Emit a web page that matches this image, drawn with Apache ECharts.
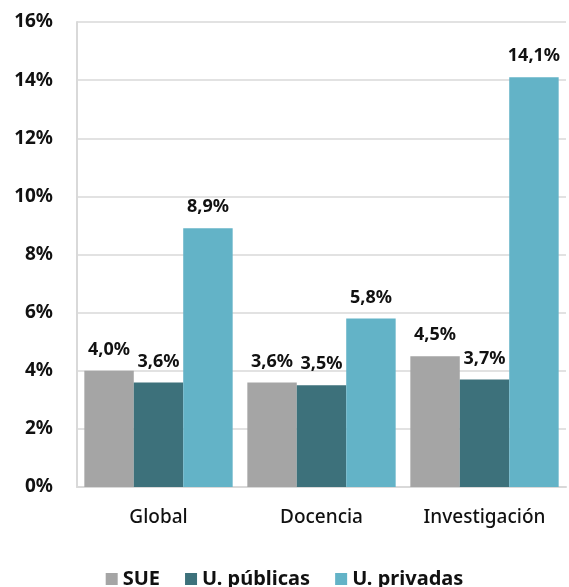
<!DOCTYPE html>
<html><head><meta charset="utf-8">
<script src="https://cdn.jsdelivr.net/npm/echarts@6/dist/echarts.min.js"></script>
<style>html,body{margin:0;padding:0;background:#fff}#c{width:569px;height:587px}</style>
</head><body><div id="c"></div>
<script>
const categories = ["Global", "Docencia", "Investigación"];
const seriesNames = ["SUE", "U. públicas", "U. privadas"];
const sue = [4.0, 3.6, 4.5];
const publicas = [3.6, 3.5, 3.7];
const privadas = [8.9, 5.8, 14.1];
const colors = ["#a5a5a5", "#3d717b", "#63b3c7"];
const font = "'Noto Sans', sans-serif";
const fmt = v => v.toFixed(1).replace('.', ',') + '%';
const chart = echarts.init(document.getElementById('c'));
const mk = (name, data, i) => ({
  name, type: 'bar', data, barGap: '0%', barCategoryGap: '9%',
  itemStyle: { color: colors[i] },
  label: { show: true, position: 'top', distance: 12, formatter: p => fmt(p.value),
    color: '#111', fontFamily: font, fontWeight: 'bold', fontSize: 18 }
});
chart.setOption({
  animation: false,
  grid: { left: 77, top: 22, right: 3, bottom: 100 },
  legend: { top: 564, left: 'center', itemWidth: 12, itemHeight: 12, itemGap: 25,
    icon: 'rect', textStyle: { fontFamily: font, fontWeight: 'bold', fontSize: 20, color: '#111' },
    data: seriesNames },
  xAxis: { type: 'category', data: categories,
    axisLine: { lineStyle: { color: '#d9d9d9', width: 2 } }, axisTick: { show: false },
    axisLabel: { margin: 21, fontFamily: font, fontWeight: 500, fontSize: 19, color: '#111' } },
  yAxis: { type: 'value', min: 0, max: 16, interval: 2,
    axisLine: { show: true, lineStyle: { color: '#d9d9d9', width: 2 } },
    splitLine: { lineStyle: { color: '#d9d9d9', width: 1.5 } },
    axisLabel: { margin: 24, formatter: v => v + '%', fontFamily: font, fontWeight: 'bold', fontSize: 19, color: '#111' } },
  series: [mk(seriesNames[0], sue, 0), mk(seriesNames[1], publicas, 1), mk(seriesNames[2], privadas, 2)]
});
</script></body></html>
